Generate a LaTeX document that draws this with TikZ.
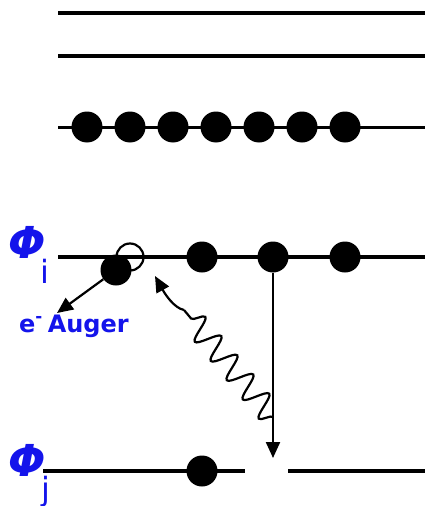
\documentclass[tikz,border=0pt]{standalone}
\usepackage{fontspec}
\setmainfont{DejaVu Sans}
\usetikzlibrary{arrows.meta,decorations.pathmorphing}
\definecolor{labblue}{RGB}{20,20,235}
\begin{document}
\begin{tikzpicture}[x=1pt,y=-1pt,
  dot/.style={circle,fill=black,inner sep=0pt,minimum size=31pt},
  hole/.style={circle,draw=black,line width=2.2pt,fill=none,inner sep=0pt,minimum size=27pt},
  level/.style={line width=4pt},
  arr/.style={line width=2.2pt,-{Triangle[length=16pt,width=14pt]}},
  lab/.style={text=labblue,inner sep=0pt,font=\fontsize{24}{24}\selectfont\bfseries},
  phi/.style={text=labblue,inner sep=0pt,font=\fontsize{44}{44}\selectfont\bfseries\itshape},
  sub/.style={text=labblue,inner sep=0pt,font=\fontsize{32}{32}\selectfont}]
\useasboundingbox (0,0) rectangle (425,506);
% top empty levels
\coordinate (l1a) at (58,13);  \coordinate (l1b) at (425,13);
\coordinate (l2a) at (58,56);  \coordinate (l2b) at (425,56);
\draw[level] (l1a) -- (l1b);
\draw[level] (l2a) -- (l2b);
% full level
\coordinate (l3a) at (58,127); \coordinate (l3b) at (425,127);
\draw[line width=3pt] (l3a) -- (l3b);
\foreach \i/\x in {1/87,2/130,3/173,4/216,5/259,6/302,7/345}
  \node[dot] (f\i) at (\x,127) {};
% Phi_i level
\coordinate (lia) at (58,257); \coordinate (lib) at (425,257);
\draw[level] (lia) -- (lib);
\node[hole] (h) at (130,257) {};
\node[dot] (ea) at (116,270) {};
\node[dot] (d2) at (202,257) {};
\node[dot] (d3) at (273,257) {};
\node[dot] (d4) at (345,257) {};
\node[phi,anchor=south] (phii) at (27,259) {Φ};
\node[sub,anchor=north] (subi) at (45,259) {i};
% Phi_j level
\coordinate (lja) at (43,471); \coordinate (ljb) at (245,471);
\coordinate (ljc) at (288,471); \coordinate (ljd) at (425,471);
\draw[level] (lja) -- (ljb);
\draw[level] (ljc) -- (ljd);
\node[dot] (dj) at (202,471) {};
\node[phi,anchor=south] (phij) at (27,477) {Φ};
\node[sub,anchor=north] (subj) at (46,476) {j};
% Auger electron
\coordinate (et) at (57,313);
\draw[arr] (ea) -- (et);
\node[lab,anchor=base west] (elab) at (19,332) {e\textsuperscript{-}\hspace{0.2em}Auger};
% transition
\coordinate (vt) at (273,458);
\draw[arr] (d3) -- (vt);
% photon
\coordinate (w0) at (273,417);
\coordinate (w1) at (184,310);
\coordinate (wt) at (155,276);
\draw[line width=2.2pt,decorate,decoration={snake,segment length=25pt,amplitude=12pt,pre length=0pt,post length=0pt}] (w0) -- (w1);
\draw[arr] (w1) .. controls (174,308) and (165,294) .. (wt);
\end{tikzpicture}
\end{document}
